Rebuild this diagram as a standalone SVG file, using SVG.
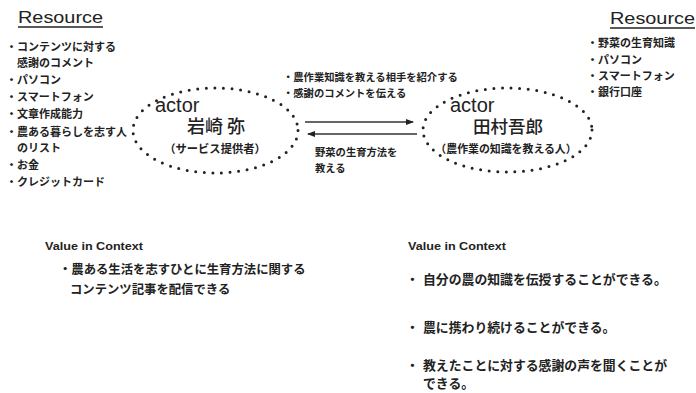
<svg xmlns="http://www.w3.org/2000/svg" width="696" height="393" viewBox="0 0 696 393">
<defs>
<style>
.jp{font-family:"Noto Sans CJK JP","Noto Sans",sans-serif;font-weight:bold;fill:#222}
.en{font-family:"Liberation Sans",Arial,sans-serif;fill:#222}
.dot{fill:none;stroke:#222;stroke-width:3;stroke-linecap:round;stroke-dasharray:0 8.6}
.arr{stroke:#333;stroke-width:1.6;fill:none}
</style>
<marker id="ah" markerWidth="8" markerHeight="8" refX="7" refY="4" orient="auto" markerUnits="userSpaceOnUse">
<path d="M0,1 L8,4 L0,7 Z" fill="#222"/>
</marker>
</defs>
<rect width="696" height="393" fill="#fff"/>

<g id="resource-left">
<text class="en" x="18" y="23" font-size="17" textLength="85" lengthAdjust="spacingAndGlyphs">Resource</text>
<line x1="18" y1="27" x2="103" y2="27" stroke="#222" stroke-width="1.3"/>
<g class="jp" font-size="11">
<text x="6" y="51">・コンテンツに対する</text>
<text x="17" y="67">感謝のコメント</text>
<text x="6" y="84">・パソコン</text>
<text x="6" y="101">・スマートフォン</text>
<text x="6" y="118">・文章作成能力</text>
<text x="6" y="136">・農ある暮らしを志す人</text>
<text x="17" y="152">のリスト</text>
<text x="6" y="169">・お金</text>
<text x="6" y="186">・クレジットカード</text>
</g>
</g>

<g id="resource-right">
<text class="en" x="610" y="24" font-size="17" textLength="85" lengthAdjust="spacingAndGlyphs">Resource</text>
<line x1="610" y1="28" x2="695" y2="28" stroke="#222" stroke-width="1.3"/>
<g class="jp" font-size="11">
<text x="587" y="47">・野菜の生育知識</text>
<text x="587" y="64">・パソコン</text>
<text x="587" y="80">・スマートフォン</text>
<text x="587" y="96">・銀行口座</text>
</g>
</g>

<g id="actor-iwasaki">
<ellipse class="dot" cx="215.5" cy="130.5" rx="82.5" ry="42.5"/>
<text class="en" x="155" y="112" font-size="20">actor</text>
<text class="jp" x="216" y="133" font-size="18" text-anchor="middle" font-weight="normal" style="font-weight:500">岩崎 弥</text>
<text class="jp" x="215" y="153" font-size="11.3" text-anchor="middle">（サービス提供者）</text>
</g>

<g id="actor-tamura">
<ellipse class="dot" cx="507.5" cy="130" rx="84.5" ry="42"/>
<text class="en" x="450" y="112" font-size="20">actor</text>
<text class="jp" x="508" y="133" font-size="17.5" text-anchor="middle" style="font-weight:500">田村吾郎</text>
<text class="jp" x="506" y="153" font-size="10.9" text-anchor="middle">（農作業の知識を教える人）</text>
</g>

<g id="connectors">
<line class="arr" x1="305" y1="122" x2="413" y2="122" marker-end="url(#ah)"/>
<line class="arr" x1="417" y1="134" x2="308" y2="134" marker-end="url(#ah)"/>
<g class="jp" font-size="10.3">
<text x="283" y="81">・農作業知識を教える相手を紹介する</text>
<text x="283" y="97">・感謝のコメントを伝える</text>
<text x="315" y="156">野菜の生育方法を</text>
<text x="315" y="172">教える</text>
</g>
</g>

<g id="value-left">
<text class="en" x="45" y="250" font-size="11" font-weight="bold" textLength="98" lengthAdjust="spacingAndGlyphs">Value in Context</text>
<g class="jp" font-size="12.35">
<text x="59" y="273.5">・農ある生活を志すひとに生育方法に関する</text>
<text x="70" y="294">コンテンツ記事を配信できる</text>
</g>
</g>

<g id="value-right">
<text class="en" x="408" y="250" font-size="11" font-weight="bold" textLength="98" lengthAdjust="spacingAndGlyphs">Value in Context</text>
<g class="jp" font-size="12.85">
<text x="406" y="283.5">・</text><text x="423" y="283.5">自分の農の知識を伝授することができる。</text>
<text x="406" y="331.5">・</text><text x="423" y="331.5">農に携わり続けることができる。</text>
<text x="406" y="369.5">・</text><text x="423" y="369.5">教えたことに対する感謝の声を聞くことが</text>
<text x="423" y="387.5">できる。</text>
</g>
</g>
</svg>
